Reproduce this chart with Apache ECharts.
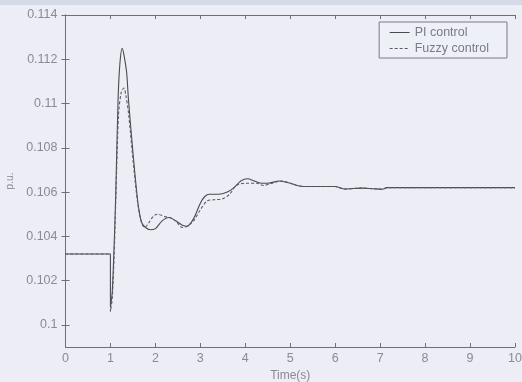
<!DOCTYPE html>
<html>
<head>
<meta charset="utf-8">
<script src="https://cdn.jsdelivr.net/npm/echarts@6/dist/echarts.min.js"></script>
<style>
html,body{margin:0;padding:0;background:#ecedf5;}
#c{width:522px;height:382px;}
</style>
</head>
<body>
<div id="c"></div>
<script>
// Time (s) and per-unit values
var piTime = [0, 1, 1, 1.04, 1.08, 1.115, 1.17, 1.21, 1.26, 1.3, 1.36, 1.4, 1.5, 1.6, 1.65, 1.7, 1.78, 1.88, 2.0, 2.15, 2.3, 2.45, 2.6, 2.7, 2.85, 3.0, 3.1, 3.2, 3.4, 3.6, 3.75, 3.9, 4.05, 4.2, 4.35, 4.5, 4.75, 5.0, 5.15, 5.3, 6.0, 6.1, 6.2, 6.4, 6.6, 6.85, 7.05, 7.15, 10];
var piValue = [0.1032, 0.1032, 0.1008, 0.1015, 0.1035, 0.1057, 0.1102, 0.1118, 0.1125, 0.1122, 0.1114, 0.1102, 0.1078, 0.1057, 0.1050, 0.1046, 0.1044, 0.1043, 0.10435, 0.1047, 0.10485, 0.1047, 0.1045, 0.10445, 0.1048, 0.1055, 0.1058, 0.1059, 0.1059, 0.1060, 0.1062, 0.1065, 0.1066, 0.1065, 0.1064, 0.1064, 0.1065, 0.1064, 0.1063, 0.10625, 0.10625, 0.1062, 0.10614, 0.10616, 0.10618, 0.10615, 0.10613, 0.1062, 0.1062];
var fuzzyTime = [0, 1, 1, 1.04, 1.08, 1.12, 1.18, 1.24, 1.3, 1.34, 1.4, 1.5, 1.6, 1.68, 1.76, 1.85, 1.95, 2.05, 2.2, 2.32, 2.45, 2.6, 2.7, 2.85, 3.0, 3.15, 3.3, 3.5, 3.65, 3.8, 4.0, 4.25, 4.4, 4.6, 4.8, 5.0, 5.15, 5.3, 6.0, 6.1, 6.2, 6.4, 6.6, 6.85, 7.05, 7.15, 10];
var fuzzyValue = [0.1032, 0.1032, 0.1006, 0.1012, 0.1030, 0.1057, 0.1095, 0.1105, 0.1107, 0.1104, 0.1096, 0.1075, 0.1056, 0.1047, 0.1044, 0.1046, 0.1049, 0.1050, 0.1049, 0.10485, 0.1047, 0.1044, 0.10445, 0.1047, 0.1052, 0.1056, 0.10565, 0.1057, 0.1059, 0.1063, 0.1064, 0.1064, 0.1063, 0.1064, 0.1065, 0.1064, 0.1063, 0.10625, 0.10625, 0.1062, 0.10614, 0.10616, 0.10618, 0.10615, 0.10613, 0.1062, 0.1062];
var yTicks = [0.1, 0.102, 0.104, 0.106, 0.108, 0.11, 0.112, 0.114];
var xTicks = [0, 1, 2, 3, 4, 5, 6, 7, 8, 9, 10];
var seriesNames = ['PI control', 'Fuzzy control'];

function pairs(t, v) { return t.map(function (x, i) { return [x, v[i]]; }); }

var axisGray = '#6f6f78';
var labelGray = '#8a8a94';
var lineGray = '#4a4a50';
var font = 'Liberation Sans, Arial, sans-serif';

var chart = echarts.init(document.getElementById('c'), null, {renderer: 'canvas'});
chart.setOption({
  backgroundColor: '#ecedf5',
  animation: false,
  graphic: [
    {type: 'rect', shape: {x: 0, y: 0, width: 522, height: 5}, style: {fill: '#d6d9e8'}, z: -10}
  ],
  grid: {left: 65.5, right: 7, top: 15, bottom: 35, containLabel: false, outerBoundsMode: 'none'},
  legend: {
    data: seriesNames,
    orient: 'vertical',
    right: 15,
    top: 22,
    itemWidth: 20,
    itemHeight: 10,
    itemGap: 3,
    padding: [4, 18, 3, 10],
    borderColor: '#7a7a84',
    borderWidth: 1,
    backgroundColor: '#eef0f7',
    itemStyle: {opacity: 0},
    lineStyle: {width: 1},
    textStyle: {color: '#7a7a86', fontSize: 12.5, fontFamily: font}
  },
  xAxis: [{
    type: 'value', min: 0, max: 10, interval: 1,
    name: 'Time(s)', nameLocation: 'middle', nameGap: 20,
    nameTextStyle: {color: labelGray, fontSize: 12, fontFamily: font},
    axisLine: {show: true, lineStyle: {color: axisGray, width: 1}},
    axisTick: {show: true, inside: true, length: 4, lineStyle: {color: axisGray}},
    axisLabel: {color: labelGray, fontSize: 12.5, margin: 5, fontFamily: font},
    splitLine: {show: false}
  }, {
    type: 'value', min: 0, max: 10, interval: 1, position: 'top',
    axisLine: {show: true, lineStyle: {color: axisGray, width: 1}},
    axisTick: {show: true, inside: true, length: 4, lineStyle: {color: axisGray}},
    axisLabel: {show: false},
    splitLine: {show: false}
  }],
  yAxis: [{
    type: 'value', min: 0.099, max: 0.114,
    name: 'p.u.', nameLocation: 'middle', nameGap: 50, nameRotate: 90,
    nameTextStyle: {color: labelGray, fontSize: 10.5, fontFamily: font},
    axisLine: {show: true, lineStyle: {color: axisGray, width: 1}},
    axisTick: {show: true, inside: true, length: 4, customValues: yTicks, lineStyle: {color: axisGray}},
    axisLabel: {color: labelGray, fontSize: 12.5, margin: 8, customValues: yTicks,
      fontFamily: font,
      formatter: function (v) { return String(parseFloat(v.toFixed(4))); }},
    splitLine: {show: false}
  }, {
    type: 'value', min: 0.099, max: 0.114, position: 'right',
    axisLine: {show: true, lineStyle: {color: axisGray, width: 1}},
    axisTick: {show: true, inside: true, length: 4, customValues: yTicks, lineStyle: {color: axisGray}},
    axisLabel: {show: false},
    splitLine: {show: false}
  }],
  series: [{
    name: seriesNames[0], type: 'line', data: pairs(piTime, piValue),
    symbol: 'none', smooth: 0.3, xAxisIndex: 0, yAxisIndex: 0,
    lineStyle: {color: lineGray, width: 1.1, type: 'solid'},
    itemStyle: {color: lineGray}
  }, {
    name: seriesNames[1], type: 'line', data: pairs(fuzzyTime, fuzzyValue),
    symbol: 'none', smooth: 0.3, xAxisIndex: 0, yAxisIndex: 0,
    lineStyle: {color: '#5a5a62', width: 1.1, type: [3, 2]},
    itemStyle: {color: '#5a5a62'}
  }]
});
</script>
</body>
</html>
